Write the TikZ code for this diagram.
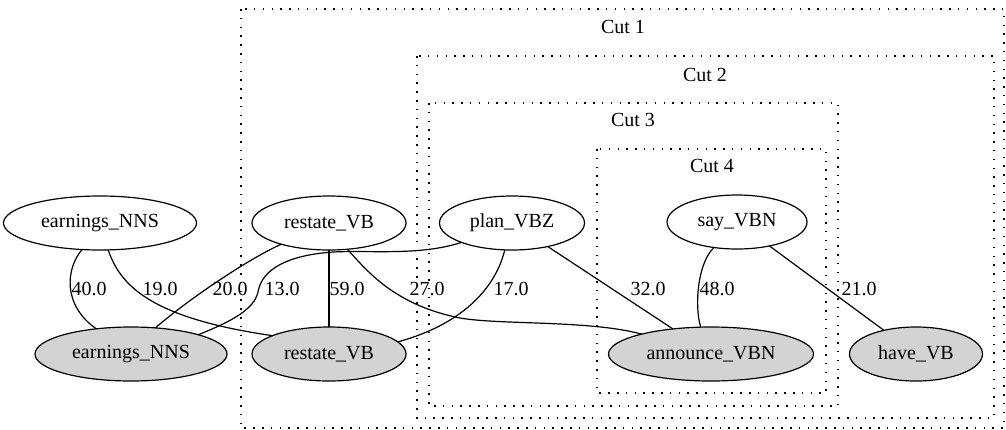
\documentclass[tikz,border=0pt]{standalone}
\usepackage{fontspec}
\setmainfont{Liberation Serif}
\usetikzlibrary{shapes.geometric}
\definecolor{lgray}{HTML}{D3D3D3}
\begin{document}
\begin{tikzpicture}[x=1pt,y=-1pt,
  every node/.style={font=\fontsize{20}{24}\selectfont},
  wnode/.style={ellipse,draw,line width=1.2pt,inner sep=0pt,outer sep=0pt,minimum height=54pt},
  gnode/.style={wnode,fill=lgray},
  conn/.style={draw,line width=1.2pt},
  elabel/.style={anchor=base,inner sep=0pt},
  cutbox/.style={draw,line width=1.4pt,dash pattern=on 1.5pt off 7.3pt},
  cutlabel/.style={inner sep=0pt}
]
\useasboundingbox (0,0) rectangle (1006,429);
% clusters
\draw[cutbox] (241,9) rectangle (1004,428);
\draw[cutbox] (417,56) rectangle (994,418);
\draw[cutbox] (429,103) rectangle (838,406);
\draw[cutbox] (597,149) rectangle (826,393);
\node[cutlabel] (cut1) at (623,27) {Cut 1};
\node[cutlabel] (cut2) at (705,75) {Cut 2};
\node[cutlabel] (cut3) at (633,120) {Cut 3};
\node[cutlabel] (cut4) at (712,166) {Cut 4};
% nodes
\node[wnode,minimum width=193pt] (e1) at (100,223) {earnings\_NNS};
\node[wnode,minimum width=154pt] (r1) at (329,223) {restate\_VB};
\node[wnode,minimum width=145pt] (p1) at (512,223) {plan\_VBZ};
\node[wnode,minimum width=140pt] (s1) at (737,222) {say\_VBN};
\node[gnode,minimum width=192pt] (e2) at (131,354) {earnings\_NNS};
\node[gnode,minimum width=154pt] (r2) at (329,354) {restate\_VB};
\node[gnode,minimum width=205pt] (a2) at (711,354) {announce\_VBN};
\node[gnode,minimum width=133pt] (h2) at (916,354) {have\_VB};
% edges
\draw[conn] (e1.-124) .. controls (66,268) and (62,305) .. (e2.144);
\draw[conn] (e1.-73) .. controls (120,285) and (150,318) .. (r2.162);
\draw[conn] (r1.-156) .. controls (250,258) and (190,298) .. (e2.47);
\draw[conn] (p1.-159) .. controls (420,256) and (370,250) .. (333,252)
   .. controls (290,255) and (262,268) .. (258,292)
   .. controls (254,310) and (230,322) .. (e2.16);
\draw[conn] (r1) -- (r2);
\draw[conn] (r1.-55) .. controls (368,272) and (395,305) .. (460,318)
   .. controls (500,325) and (590,320) .. (a2.164);
\draw[conn] (p1.-105) .. controls (495,290) and (460,325) .. (r2.10);
\draw[conn] (p1) -- (a2);
\draw[conn] (s1.-132) .. controls (698,262) and (694,305) .. (a2.111);
\draw[conn] (s1) -- (h2);
% edge labels
\node[elabel] (l40) at (89,295) {40.0};
\node[elabel] (l19) at (160,295) {19.0};
\node[elabel] (l20) at (230,295) {20.0};
\node[elabel] (l13) at (282,295) {13.0};
\node[elabel] (l59) at (347,295) {59.0};
\node[elabel] (l27) at (427,295) {27.0};
\node[elabel] (l17) at (511,295) {17.0};
\node[elabel] (l32) at (648,295) {32.0};
\node[elabel] (l48) at (717,295) {48.0};
\node[elabel] (l21) at (859,295) {21.0};
\end{tikzpicture}
\end{document}
